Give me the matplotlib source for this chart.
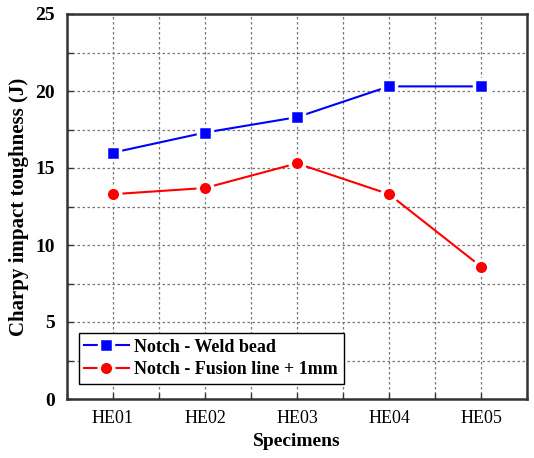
import matplotlib.pyplot as plt
from matplotlib.ticker import MultipleLocator

specimens = ["HE01", "HE02", "HE03", "HE04", "HE05"]
weld_bead = [16.0, 17.3, 18.3, 20.3, 20.3]
fusion_line = [13.3, 13.7, 15.3, 13.3, 8.6]

plt.rcParams['font.family'] = ['Liberation Serif', 'DejaVu Serif']

fig = plt.figure(figsize=(5.34, 4.58), dpi=100)
ax = fig.add_axes([67 / 534, 1 - 399 / 458, 460 / 534, 385 / 458])

x = range(len(specimens))
ax.plot(x, weld_bead, color='blue', lw=1.5, marker='s', ms=9.5,
        mfc='blue', mec='white', mew=2.5, label="Notch - Weld bead")
ax.plot(x, fusion_line, color='red', lw=1.5, marker='o', ms=10.5,
        mfc='red', mec='white', mew=2.5, label="Notch - Fusion line + 1mm")

ax.set_xlim(-0.5, 4.5)
ax.set_ylim(0, 25)
ax.set_xticks(list(x))
ax.set_xticklabels(specimens, fontsize=13)
ax.xaxis.set_minor_locator(MultipleLocator(0.5))
ax.yaxis.set_major_locator(MultipleLocator(5))
ax.yaxis.set_minor_locator(MultipleLocator(2.5))
for lbl in ax.get_yticklabels():
    lbl.set_fontweight('bold')
    lbl.set_fontsize(14)

ax.grid(True, which='both', color='#777777', linestyle=(0, (2, 2)), lw=0.9)
ax.tick_params(which='both', direction='in', length=4, width=1, color='#333333')
ax.tick_params(axis='x', pad=8)
ax.tick_params(axis='y', pad=9)
for s in ax.spines.values():
    s.set_linewidth(1.8)
    s.set_color('#333333')

ax.set_xlabel("Specimens", fontsize=14, fontweight='bold', labelpad=4)
ax.set_ylabel("Charpy impact toughness (J)", fontsize=15, fontweight='bold', labelpad=4)

leg = ax.legend(loc='lower left', bbox_to_anchor=(0.025, 0.04), borderaxespad=0,
                fancybox=False, edgecolor='black', framealpha=1, handlelength=2.5,
                handletextpad=0.3, borderpad=0.3, labelspacing=0.3,
                prop={'weight': 'bold', 'size': 13})
leg.get_frame().set_linewidth(1.0)

fig.savefig("out.png", dpi=100)
